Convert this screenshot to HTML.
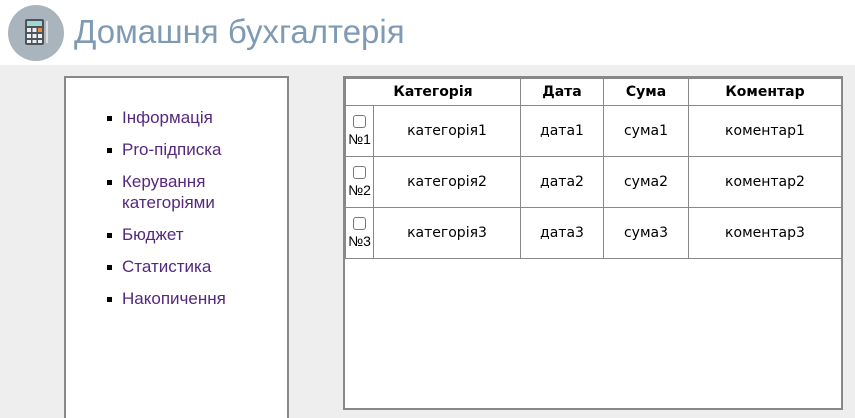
<!DOCTYPE html>
<html><head><meta charset="utf-8"><style>
*{margin:0;padding:0;box-sizing:border-box}
html,body{width:855px;height:418px;overflow:hidden}
body{background:#eeeeee;position:relative;font-family:"Liberation Sans",sans-serif}
.hdr{position:absolute;left:0;top:0;width:855px;height:65px;background:#fff}
.circ{position:absolute;left:8px;top:5px;width:56px;height:56px;border-radius:50%;background:#a9b4bd}
.title{position:absolute;left:74px;top:13px;font-size:33px;color:#7f9ab3;white-space:nowrap}
.lp{position:absolute;left:64px;top:76px;width:225px;height:360px;background:#fff;border:2px solid #888}
.li{position:absolute;left:56px;font-size:17px;color:#55287e;line-height:21px}
.li:before{content:"";position:absolute;left:-15px;top:9px;width:5px;height:5px;background:#000}
.rp{position:absolute;left:343px;top:76px;width:500px;height:334px;background:#fff;border:2px solid #888}
table{position:absolute;left:0px;top:0px;border-collapse:collapse;table-layout:fixed;width:496px;font-family:"DejaVu Sans",sans-serif;font-size:14px}
td,th{border:1px solid #888;text-align:center;padding:0}
th{height:27px;font-weight:bold;font-size:14px}
td{height:51px}
.cb{width:13px;height:13px;border:1px solid #777;border-radius:3px;margin:0 auto 3px}
.n{font-size:14px;line-height:16px;font-family:"Liberation Sans",sans-serif}
</style></head><body>
<div class="hdr"></div>
<div class="circ"><svg width="56" height="56"><rect x="17" y="14" width="19" height="26" rx="2" fill="#4a555e"/><rect x="19" y="16" width="15" height="5" fill="#9fd8d0"/><g fill="#eee"><rect x="19" y="23" width="4" height="4"/><rect x="24.5" y="23" width="4" height="4"/><rect x="30" y="23" width="4" height="4" fill="#f08a3c"/><rect x="19" y="29" width="4" height="4"/><rect x="24.5" y="29" width="4" height="4"/><rect x="30" y="29" width="4" height="4"/><rect x="19" y="35" width="4" height="3"/><rect x="24.5" y="35" width="4" height="3"/><rect x="30" y="35" width="4" height="3"/></g><rect x="38" y="16" width="2" height="22" fill="#ddd"/></svg></div>
<div class="title">Домашня бухгалтерія</div>
<div class="lp">
<div class="li" style="top:29px">Інформація</div>
<div class="li" style="top:61px">Pro-підписка</div>
<div class="li" style="top:93px">Керування<br>категоріями</div>
<div class="li" style="top:146px">Бюджет</div>
<div class="li" style="top:178px">Статистика</div>
<div class="li" style="top:210px">Накопичення</div>
</div>
<div class="rp">
<table>
<colgroup><col style="width:28px"><col style="width:147px"><col style="width:83px"><col style="width:85px"><col style="width:153px"></colgroup>
<tr><th colspan="2">Категорія</th><th>Дата</th><th>Сума</th><th>Коментар</th></tr>
<tr><td><div class="cb"></div><div class="n">№1</div></td><td>категорія1</td><td>дата1</td><td>сума1</td><td>коментар1</td></tr>
<tr><td><div class="cb"></div><div class="n">№2</div></td><td>категорія2</td><td>дата2</td><td>сума2</td><td>коментар2</td></tr>
<tr><td><div class="cb"></div><div class="n">№3</div></td><td>категорія3</td><td>дата3</td><td>сума3</td><td>коментар3</td></tr>
</table>
</div>
</body></html>
